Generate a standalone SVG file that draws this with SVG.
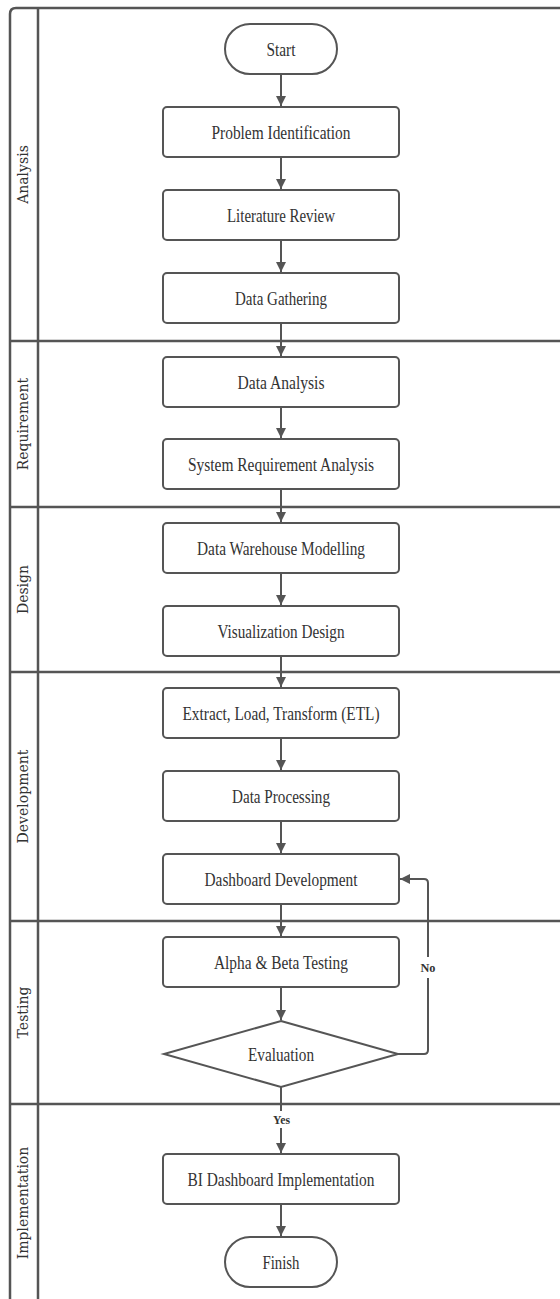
<svg xmlns="http://www.w3.org/2000/svg" width="560" height="1299" viewBox="0 0 560 1299">
<style>
.frame{fill:none;stroke:#555;stroke-width:2.5}
.box{fill:#fff;stroke:#555;stroke-width:2}
.t{font-family:"Liberation Serif","Times New Roman",serif;font-size:18px;fill:#333;text-anchor:middle}
.lane{font-family:"DejaVu Serif",serif;font-size:14px;fill:#333;text-anchor:middle}
.lbl{font-family:"Liberation Serif","Times New Roman",serif;font-size:13px;font-weight:bold;fill:#333;text-anchor:middle}
.c{fill:none;stroke:#555;stroke-width:2}
</style>
<defs>
<marker id="ah" markerWidth="10" markerHeight="12" refX="10" refY="5" orient="auto" markerUnits="userSpaceOnUse" viewBox="0 0 10 10">
<path d="M0,0 L10,5 L0,10 Z" fill="#555"/>
</marker>
</defs>
<rect width="560" height="1299" fill="#fff"/>
<g id="lanes">
<path class="frame" d="M10,1299 V14 Q10,8 16,8 H560"/>
<line class="frame" x1="38" y1="8" x2="38" y2="1299"/>
<line class="frame" x1="10" y1="341" x2="560" y2="341"/>
<line class="frame" x1="10" y1="507" x2="560" y2="507"/>
<line class="frame" x1="10" y1="672" x2="560" y2="672"/>
<line class="frame" x1="10" y1="921" x2="560" y2="921"/>
<line class="frame" x1="10" y1="1104" x2="560" y2="1104"/>
<text class="lane" transform="translate(28,174.5) rotate(-90)">Analysis</text>
<text class="lane" transform="translate(28,424) rotate(-90)">Requirement</text>
<text class="lane" transform="translate(28,589.5) rotate(-90)">Design</text>
<text class="lane" transform="translate(28,796.5) rotate(-90)">Development</text>
<text class="lane" transform="translate(28,1012.5) rotate(-90)">Testing</text>
<text class="lane" transform="translate(28,1203) rotate(-90)">Implementation</text>
</g>
<g id="connectors">
<line class="c" x1="281" y1="74" x2="281" y2="106" marker-end="url(#ah)"/>
<line class="c" x1="281" y1="157" x2="281" y2="189" marker-end="url(#ah)"/>
<line class="c" x1="281" y1="240" x2="281" y2="272" marker-end="url(#ah)"/>
<line class="c" x1="281" y1="323" x2="281" y2="356" marker-end="url(#ah)"/>
<line class="c" x1="281" y1="407" x2="281" y2="438" marker-end="url(#ah)"/>
<line class="c" x1="281" y1="489" x2="281" y2="522" marker-end="url(#ah)"/>
<line class="c" x1="281" y1="573" x2="281" y2="605" marker-end="url(#ah)"/>
<line class="c" x1="281" y1="656" x2="281" y2="687" marker-end="url(#ah)"/>
<line class="c" x1="281" y1="738" x2="281" y2="770" marker-end="url(#ah)"/>
<line class="c" x1="281" y1="821" x2="281" y2="853" marker-end="url(#ah)"/>
<line class="c" x1="281" y1="904" x2="281" y2="936" marker-end="url(#ah)"/>
<line class="c" x1="281" y1="987" x2="281" y2="1020" marker-end="url(#ah)"/>
<line class="c" x1="281" y1="1087" x2="281" y2="1111"/>
<line class="c" x1="281" y1="1128" x2="281" y2="1153" marker-end="url(#ah)"/>
<text class="lbl" x="281.5" y="1123.5" textLength="17" lengthAdjust="spacingAndGlyphs">Yes</text>
<line class="c" x1="281" y1="1204" x2="281" y2="1236" marker-end="url(#ah)"/>
<path class="c" d="M398,1054 H424 Q428,1054 428,1050 V978"/>
<path class="c" d="M428,957 V883 Q428,879 424,879 H400" marker-end="url(#ah)"/>
<text class="lbl" x="428" y="971.5" textLength="15" lengthAdjust="spacingAndGlyphs">No</text>
</g>
<g id="start"><rect class="box" x="225" y="24" width="112" height="50" rx="25"/><text class="t" x="281" y="55.5" textLength="29" lengthAdjust="spacingAndGlyphs">Start</text></g>
<g id="problem"><rect class="box" x="163" y="107" width="236" height="50" rx="4"/><text class="t" x="281" y="138.5" textLength="139" lengthAdjust="spacingAndGlyphs">Problem Identification</text></g>
<g id="literature"><rect class="box" x="163" y="190" width="236" height="50" rx="4"/><text class="t" x="281" y="221.5" textLength="108" lengthAdjust="spacingAndGlyphs">Literature Review</text></g>
<g id="gathering"><rect class="box" x="163" y="273" width="236" height="50" rx="4"/><text class="t" x="281" y="304.5" textLength="92" lengthAdjust="spacingAndGlyphs">Data Gathering</text></g>
<g id="analysis"><rect class="box" x="163" y="357" width="236" height="50" rx="4"/><text class="t" x="281" y="388.5" textLength="87" lengthAdjust="spacingAndGlyphs">Data Analysis</text></g>
<g id="sra"><rect class="box" x="163" y="439" width="236" height="50" rx="4"/><text class="t" x="281" y="470.5" textLength="186" lengthAdjust="spacingAndGlyphs">System Requirement Analysis</text></g>
<g id="dwm"><rect class="box" x="163" y="523" width="236" height="50" rx="4"/><text class="t" x="281" y="554.5" textLength="168" lengthAdjust="spacingAndGlyphs">Data Warehouse Modelling</text></g>
<g id="vd"><rect class="box" x="163" y="606" width="236" height="50" rx="4"/><text class="t" x="281" y="637.5" textLength="127" lengthAdjust="spacingAndGlyphs">Visualization Design</text></g>
<g id="etl"><rect class="box" x="163" y="688" width="236" height="50" rx="4"/><text class="t" x="281" y="719.5" textLength="197" lengthAdjust="spacingAndGlyphs">Extract, Load, Transform (ETL)</text></g>
<g id="processing"><rect class="box" x="163" y="771" width="236" height="50" rx="4"/><text class="t" x="281" y="802.5" textLength="98" lengthAdjust="spacingAndGlyphs">Data Processing</text></g>
<g id="dashdev"><rect class="box" x="163" y="854" width="236" height="50" rx="4"/><text class="t" x="281" y="885.5" textLength="153" lengthAdjust="spacingAndGlyphs">Dashboard Development</text></g>
<g id="testing"><rect class="box" x="163" y="937" width="236" height="50" rx="4"/><text class="t" x="281" y="968.5" textLength="134" lengthAdjust="spacingAndGlyphs">Alpha &amp; Beta Testing</text></g>
<g id="evaluation"><polygon class="box" points="281,1021 398,1054 281,1087 164,1054"/><text class="t" x="281" y="1060.5" textLength="66" lengthAdjust="spacingAndGlyphs">Evaluation</text></g>
<g id="bi"><rect class="box" x="163" y="1154" width="236" height="50" rx="4"/><text class="t" x="281" y="1185.5" textLength="187" lengthAdjust="spacingAndGlyphs">BI Dashboard Implementation</text></g>
<g id="finish"><rect class="box" x="225" y="1237" width="112" height="50" rx="25"/><text class="t" x="281" y="1268.5" textLength="37" lengthAdjust="spacingAndGlyphs">Finish</text></g>
</svg>
